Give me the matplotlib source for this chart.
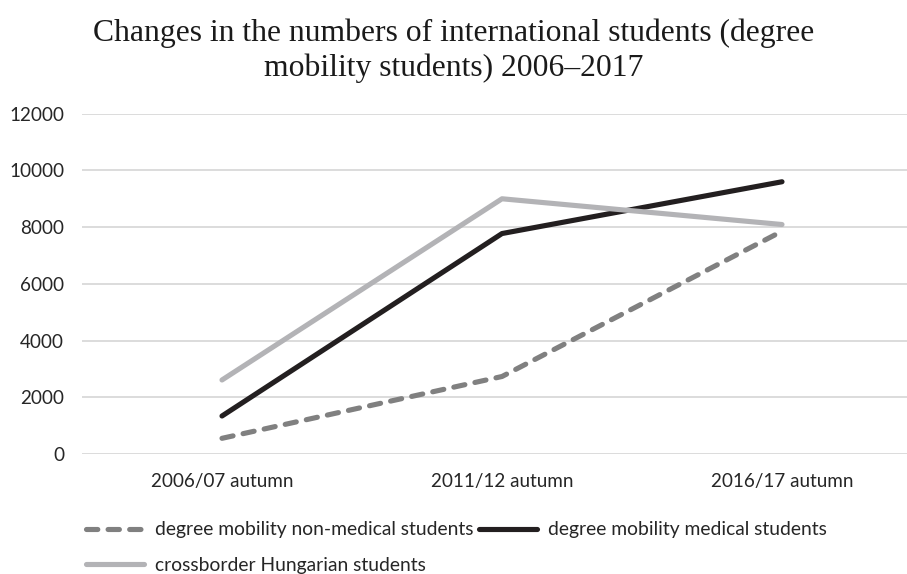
import matplotlib
matplotlib.use("Agg")
import matplotlib.pyplot as plt

categories = ["2006/07 autumn", "2011/12 autumn", "2016/17 autumn"]
non_medical = [553, 2733, 7856]
medical = [1340, 7774, 9600]
crossborder = [2610, 9000, 8092]
yticks = [0, 2000, 4000, 6000, 8000, 10000, 12000]

W, H = 907, 574
fig = plt.figure(figsize=(W/100, H/100), dpi=100)
ax = fig.add_axes([82/W, (H-454)/H, (922-82)/W, (454-113.7)/H])

x = list(range(len(categories)))
LW = 3.7
l1, = ax.plot(x, non_medical, color="#808080", lw=LW, ls=(0, (2.2, 2.0)), dash_capstyle="round", solid_capstyle="round", label="degree mobility non-medical students")
l2, = ax.plot(x, medical, color="#231f20", lw=LW, solid_capstyle="round", label="degree mobility medical students")
l3, = ax.plot(x, crossborder, color="#b3b3b6", lw=LW, solid_capstyle="round", label="crossborder Hungarian students")

ax.set_xlim(-0.5, 2.5)
ax.set_ylim(0, 12000)
ax.set_yticks(yticks)
ax.set_yticklabels([str(v) for v in yticks])
ax.set_xticks(x)
ax.set_xticklabels(categories)
ax.grid(axis="y", color="#d9d9d9", lw=1.3)
ax.set_axisbelow(True)
for s in ax.spines.values():
    s.set_visible(False)
ax.tick_params(length=0, labelsize=13.6, colors="#262626", labelfontfamily="Lato")
ax.tick_params(axis="y", pad=13)
ax.tick_params(axis="x", pad=14)

fig.text(0.5, 0.911, "Changes in the numbers of international students (degree\nmobility students) 2006\u20132017",
         ha="center", va="center", fontsize=22.8, family="Liberation Serif", color="#1a1a1a", linespacing=1.24)

leg = fig.legend([l1, l3, l2], [l1.get_label(), l3.get_label(), l2.get_label()],
                 ncol=2, loc="upper left", bbox_to_anchor=(69/W, 1-504/H),
                 frameon=False, handlelength=3.0, handletextpad=0.57, columnspacing=0.25,
                 labelspacing=0.95, prop={"family": "Lato", "size": 13.9})
for t in leg.get_texts():
    t.set_color("#262626")

fig.savefig("out.png", dpi=100)
